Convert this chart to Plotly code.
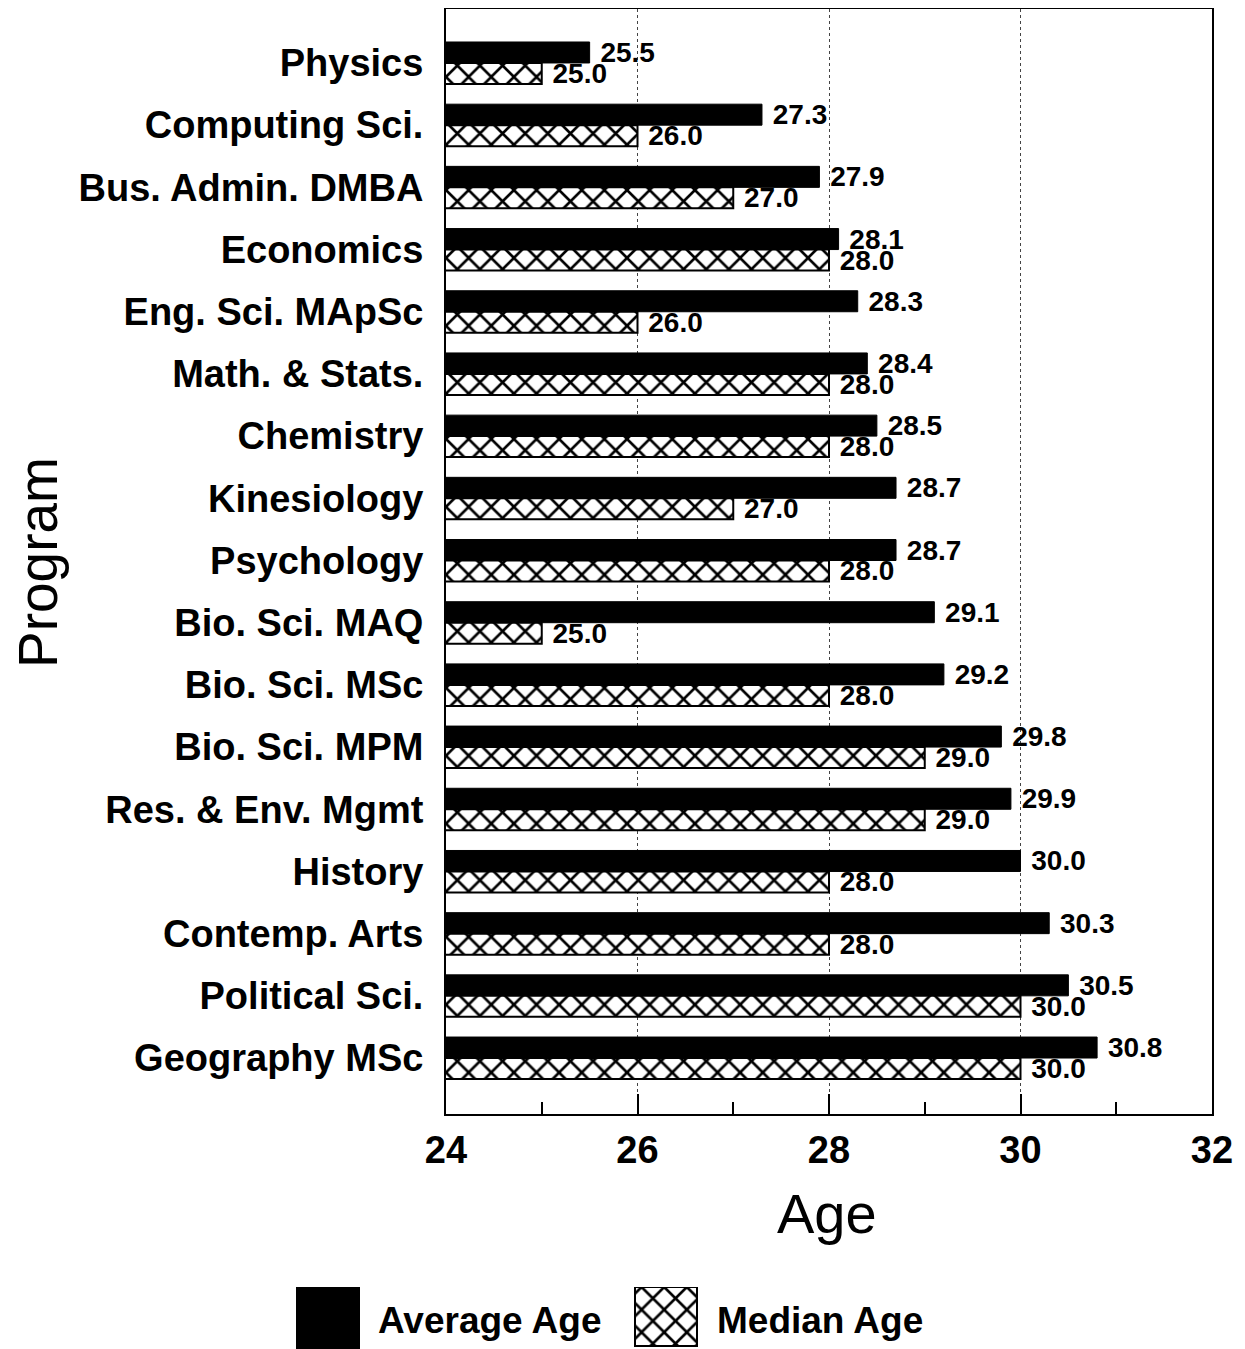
import plotly.graph_objects as go

programs = ["Physics", "Computing Sci.", "Bus. Admin. DMBA", "Economics", "Eng. Sci. MApSc",
            "Math. & Stats.", "Chemistry", "Kinesiology", "Psychology", "Bio. Sci. MAQ",
            "Bio. Sci. MSc", "Bio. Sci. MPM", "Res. & Env. Mgmt", "History", "Contemp. Arts",
            "Political Sci.", "Geography MSc"]
average_age = [25.5, 27.3, 27.9, 28.1, 28.3, 28.4, 28.5, 28.7, 28.7, 29.1,
               29.2, 29.8, 29.9, 30.0, 30.3, 30.5, 30.8]
median_age = [25.0, 26.0, 27.0, 28.0, 26.0, 28.0, 28.0, 27.0, 28.0, 25.0,
              28.0, 29.0, 29.0, 28.0, 28.0, 30.0, 30.0]

# the page adds an 8px body margin, so the figure is 8px smaller than the window
W, H = 1237, 1341
FONT = "Liberation Sans, Arial, Helvetica, sans-serif"
hatch = dict(shape="x", fgcolor="black", bgcolor="white", size=16, solidity=0.3)

fig = go.Figure()
fig.add_trace(go.Bar(y=programs, x=average_age, orientation="h", name="Average Age",
                     marker=dict(color="black", line=dict(color="black", width=1)),
                     texttemplate=" %{x:.1f}", textposition="outside", constraintext="none",
                     cliponaxis=False, textfont=dict(family=FONT, size=28, color="black", weight="bold")))
fig.add_trace(go.Bar(y=programs, x=median_age, orientation="h", name="Median Age",
                     marker=dict(color="white", pattern=hatch, line=dict(color="black", width=2)),
                     texttemplate=" %{x:.1f}", textposition="outside", constraintext="none",
                     cliponaxis=False, textfont=dict(family=FONT, size=28, color="black", weight="bold")))

# legend keys, drawn on a hidden helper axis in pixel units
fig.add_trace(go.Bar(x=[320], y=[62], base=[0], width=[64], marker=dict(color="black", line=dict(width=0)),
                     xaxis="x2", yaxis="y2", showlegend=False, hoverinfo="skip"))
fig.add_trace(go.Bar(x=[658], y=[59], base=[3], width=[62],
                     marker=dict(color="white", pattern=hatch, line=dict(color="black", width=2)),
                     xaxis="x2", yaxis="y2", showlegend=False, hoverinfo="skip"))

fig.update_layout(
    width=W, height=H,
    template="none",
    paper_bgcolor="white", plot_bgcolor="white",
    margin=dict(l=0, r=0, t=0, b=0),
    barmode="group", bargap=0.325, bargroupgap=0,
    showlegend=False,
    font=dict(family=FONT, color="black"),
    xaxis=dict(domain=[438 / W, 1204 / W], range=[24, 32], tick0=24, dtick=2,
               ticks="inside", ticklen=20, tickwidth=1.5, tickcolor="black",
               showline=True, mirror=True, linecolor="black", linewidth=2,
               showgrid=True, gridcolor="#444", griddash="dot", gridwidth=1,
               zeroline=False, automargin=False, ticklabelstandoff=1,
               tickfont=dict(family=FONT, size=38, weight="bold"),
               minor=dict(dtick=1, ticks="inside", ticklen=12, tickwidth=1.5, tickcolor="black", showgrid=False)),
    yaxis=dict(domain=[(H - 1106) / H, (H - 1) / H], range=[16.9, -0.868],
               categoryorder="array", categoryarray=programs,
               showline=True, mirror=True, linecolor="black", linewidth=2,
               ticks="", showgrid=False, zeroline=False, automargin=False,
               ticklabelstandoff=13, tickfont=dict(family=FONT, size=38, weight="bold")),
    xaxis2=dict(domain=[0, 1], range=[0, W], visible=False, anchor="y2", fixedrange=True),
    yaxis2=dict(domain=[0, 62 / H], range=[0, 62], visible=False, anchor="x2", fixedrange=True),
)

fig.add_annotation(text="Program", x=30 / W, y=1 - 555 / H, xref="paper", yref="paper",
                   xanchor="center", yanchor="middle", textangle=-90, showarrow=False,
                   font=dict(family=FONT, size=55))
fig.add_annotation(text="Age", x=819 / W, y=1 - 1205 / H, xref="paper", yref="paper",
                   xanchor="center", yanchor="middle", showarrow=False,
                   font=dict(family=FONT, size=56))
fig.add_annotation(text="Average Age", x=368 / W, y=1 - 1312 / H, xref="paper", yref="paper",
                   xanchor="left", yanchor="middle", showarrow=False,
                   font=dict(family=FONT, size=37, weight="bold"))
fig.add_annotation(text="Median Age", x=707 / W, y=1 - 1312 / H, xref="paper", yref="paper",
                   xanchor="left", yanchor="middle", showarrow=False,
                   font=dict(family=FONT, size=37, weight="bold"))

fig.write_html("out.html")
